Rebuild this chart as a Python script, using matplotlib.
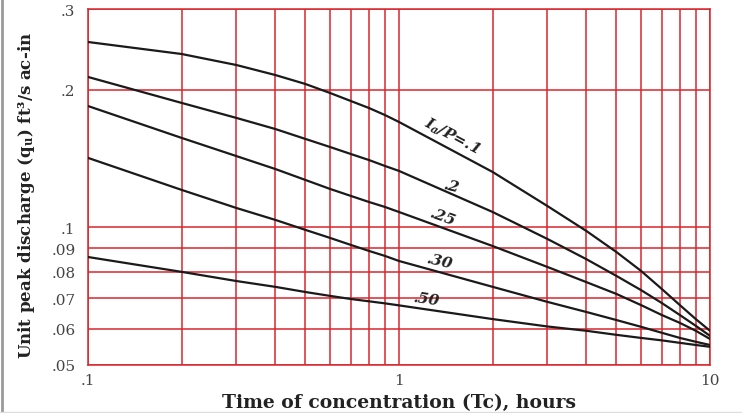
#!/usr/bin/env python
"""Unit peak discharge vs time of concentration (log-log chart)."""

import matplotlib

matplotlib.use("Agg")
import matplotlib.pyplot as plt
from matplotlib.lines import Line2D

# time of concentration, hours
TC_HOURS = [0.1, 0.2, 0.3, 0.4, 0.5, 0.6, 0.7, 0.8, 0.9, 1, 2, 3, 4, 5, 6, 7, 8, 9, 10]

# unit peak discharge for each Ia/P curve
QU_IA_010 = [0.2541, 0.2392, 0.2263, 0.2152, 0.2057, 0.1966, 0.1888, 0.1823, 0.1760, 0.1699,
             0.1321, 0.1113, 0.0982, 0.0883, 0.0803, 0.0733, 0.0676, 0.0630, 0.0594]
QU_IA_020 = [0.2131, 0.1870, 0.1734, 0.1640, 0.1560, 0.1498, 0.1446, 0.1403, 0.1362, 0.1328,
             0.1080, 0.0943, 0.0852, 0.0783, 0.0729, 0.0683, 0.0643, 0.0609, 0.0579]
QU_IA_025 = [0.1841, 0.1568, 0.1431, 0.1341, 0.1269, 0.1213, 0.1171, 0.1136, 0.1108, 0.1080,
             0.0910, 0.0819, 0.0759, 0.0715, 0.0676, 0.0643, 0.0618, 0.0594, 0.0570]
QU_IA_030 = [0.1418, 0.1207, 0.1102, 0.1038, 0.0987, 0.0948, 0.0915, 0.0888, 0.0866, 0.0844,
             0.0741, 0.0687, 0.0653, 0.0627, 0.0606, 0.0588, 0.0573, 0.0562, 0.0553]
QU_IA_050 = [0.0861, 0.0799, 0.0763, 0.0741, 0.0722, 0.0708, 0.0697, 0.0689, 0.0682, 0.0675,
             0.0630, 0.0607, 0.0594, 0.0582, 0.0573, 0.0566, 0.0559, 0.0553, 0.0548]

CURVES = [QU_IA_010, QU_IA_020, QU_IA_025, QU_IA_030, QU_IA_050]
CURVE_LABELS = ["I$_a$/P=.1", ".2", ".25", ".30", ".50"]
LABEL_POS = [(1.48, 0.159), (1.48, 0.1231), (1.385, 0.1053), (1.354, 0.0844), (1.23, 0.0697)]
LABEL_ROT = [-28, -14, -20, -13, -8]

X_GRID = [0.1, 0.2, 0.3, 0.4, 0.5, 0.6, 0.7, 0.8, 0.9, 1, 2, 3, 4, 5, 6, 7, 8, 9, 10]
X_TICK_LABELS = {0.1: ".1", 1: "1", 10: "10"}
Y_GRID = [0.05, 0.06, 0.07, 0.08, 0.09, 0.1, 0.2, 0.3]
Y_TICK_LABELS = [".05", ".06", ".07", ".08", ".09", ".1", ".2", ".3"]

GRID_RED = "#d8262e"
INK = "#222222"

plt.rcParams["font.family"] = ["DejaVu Serif"]
plt.rcParams["mathtext.fontset"] = "custom"
plt.rcParams["mathtext.rm"] = "DejaVu Serif:bold"
plt.rcParams["mathtext.it"] = "DejaVu Serif:italic:bold"
plt.rcParams["mathtext.bf"] = "DejaVu Serif:bold"

fig = plt.figure(figsize=(7.42, 4.14), dpi=100)
ax = fig.add_axes([88 / 742, 1 - 366 / 414, 622 / 742, 356 / 414])
ax.set_xscale("log")
ax.set_yscale("log")
ax.set_xlim(0.1, 10)
ax.set_ylim(0.05, 0.3)

ax.set_xticks(X_GRID)
ax.set_xticklabels([X_TICK_LABELS.get(v, "") for v in X_GRID])
ax.set_yticks(Y_GRID)
ax.set_yticklabels(Y_TICK_LABELS)
ax.minorticks_off()
ax.tick_params(length=0, labelsize=11, colors="#444444")
ax.tick_params(axis="y", pad=9)
ax.tick_params(axis="x", pad=6)
ax.grid(True, color=GRID_RED, linewidth=1.1)
for spine in ax.spines.values():
    spine.set_color(GRID_RED)
    spine.set_linewidth(1.1)

for values in CURVES:
    ax.plot(TC_HOURS, values, color="#1a1a1a", linewidth=1.6, zorder=3)

for text, (x, y), rot in zip(CURVE_LABELS, LABEL_POS, LABEL_ROT):
    ax.text(x, y, text, rotation=rot, ha="center", va="center", fontsize=11,
            fontweight="bold", fontstyle="italic", color=INK, zorder=4)

ax.set_xlabel("Time of concentration (Tc), hours", fontsize=13.5, fontweight="bold",
              color=INK)
ax.set_ylabel("Unit peak discharge (q$_\\mathrm{u}$) ft³/s ac-in", fontsize=12,
              fontweight="bold", color=INK)
ax.xaxis.set_label_coords(0.5, -0.079)
ax.yaxis.set_label_coords(-0.082, 0.48)

# faint scan border on the left and bottom edges
fig.add_artist(Line2D([1.5 / 742, 1.5 / 742], [0, 1], color="#9a9a9a", linewidth=2))
fig.add_artist(Line2D([0, 1], [1 / 414, 1 / 414], color="#dddddd", linewidth=1))

fig.savefig("out.png", dpi=100)
